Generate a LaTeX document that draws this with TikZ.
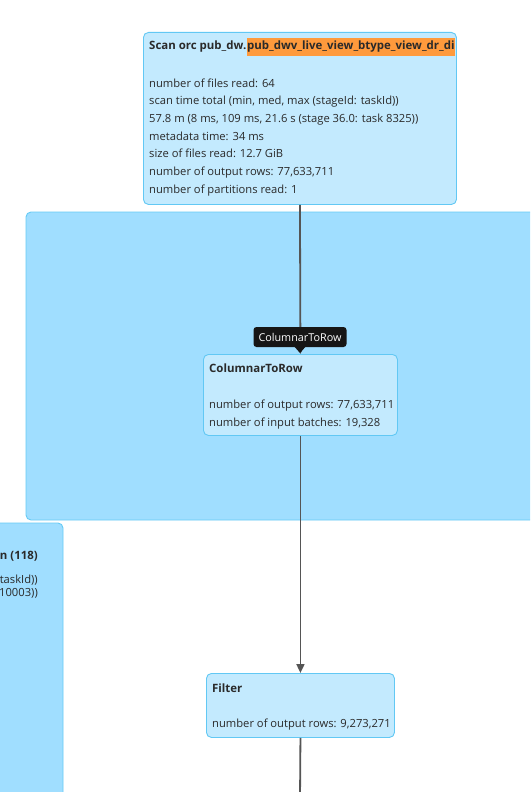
\documentclass[tikz,border=0pt]{standalone}
\usepackage{fontspec}
\setmainfont{Open Sans}
\usetikzlibrary{arrows.meta}
\definecolor{nodefill}{HTML}{C3EAFE}
\definecolor{nodeline}{HTML}{62C8F4}
\definecolor{clusterfill}{HTML}{A0DEFF}
\definecolor{clusterline}{HTML}{66CBF5}
\definecolor{edgecol}{HTML}{555555}
\definecolor{txtcol}{HTML}{2A2A2A}
\definecolor{hl}{HTML}{FF9A3C}
\definecolor{tipfill}{HTML}{161616}
\tikzset{
  nodebox/.style={draw=nodeline, fill=nodefill, line width=0.9pt, rounded corners=5pt, inner sep=0pt, anchor=north west},
  clusterbox/.style={draw=clusterline, fill=clusterfill, line width=0.9pt, rounded corners=5pt},
  txt/.style={inner sep=0pt, anchor=base west, text=txtcol, font=\fontsize{11.2}{13}\selectfont},
  ttl/.style={txt, font=\fontsize{11.45}{13}\selectfont\bfseries},
  edge/.style={draw=edgecol, line width=1.8pt},
  arr/.style={edge, -{Triangle[width=8pt,length=9pt]}},
}
\begin{document}
\begin{tikzpicture}[x=1pt,y=-1pt]
\clip (0,0) rectangle (530,792);
\fill[white] (0,0) rectangle (530,792);
% clusters
\draw[clusterbox] (26,212) rectangle (560,520);
\draw[clusterbox] (-20,523) rectangle (63,820);
\node[ttl, anchor=base east] (lt) at (38,559) {n (118)};
\node[txt, anchor=base east] (l1) at (38,583) {taskId))};
\node[txt, anchor=base east] (l2) at (38,596) {10003))};
% nodes
\node[nodebox, minimum width=313pt, minimum height=172pt] (scan) at (143,32) {};
\node[nodebox, minimum width=194pt, minimum height=81pt] (ctr) at (203,354) {};
\node[nodebox, minimum width=188pt, minimum height=64pt] (filter) at (206,673) {};
\coordinate (bottom) at (300,800);
% edges
\draw[arr] (scan.south) -- (ctr.north);
\draw[arr] (ctr.south) -- (filter.north);
\draw[edge] (filter.south) -- (bottom);
% scan text
\node[ttl] (s0) at (149,50) {Scan orc pub\_dw.};
\node[ttl, fill=hl, inner xsep=0.5pt, inner ysep=3pt] (s0b) at (s0.base east) {pub\_dwv\_live\_view\_btype\_view\_dr\_di};
\node[txt] (s1) at (149,87) {number of files read: 64};
\node[txt] (s2) at (149,104.7) {scan time total (min, med, max (stageId: taskId))};
\node[txt] (s3) at (149,122.4) {57.8 m (8 ms, 109 ms, 21.6 s (stage 36.0: task 8325))};
\node[txt] (s4) at (149,140.1) {metadata time: 34 ms};
\node[txt] (s5) at (149,157.8) {size of files read: 12.7 GiB};
\node[txt] (s6) at (149,175.5) {number of output rows: 77,633,711};
\node[txt] (s7) at (149,193.2) {number of partitions read: 1};
% columnar text
\node[ttl] (c0) at (209,372) {ColumnarToRow};
\node[txt] (c1) at (209,408) {number of output rows: 77,633,711};
\node[txt] (c2) at (209,426) {number of input batches: 19,328};
% filter text
\node[ttl] (f0) at (212,692) {Filter};
\node[txt] (f1) at (212,727) {number of output rows: 9,273,271};
% tooltip
\node[fill=tipfill, rounded corners=3pt, minimum width=93pt, minimum height=20pt, inner sep=0pt, text=white, font=\fontsize{10.8}{12}\selectfont] (tip) at (300,337) {ColumnarToRow};
\fill[tipfill] (tip.south) ++(-6,-1) -- ++(12,0) -- (300,353) -- cycle;
\end{tikzpicture}
\end{document}
